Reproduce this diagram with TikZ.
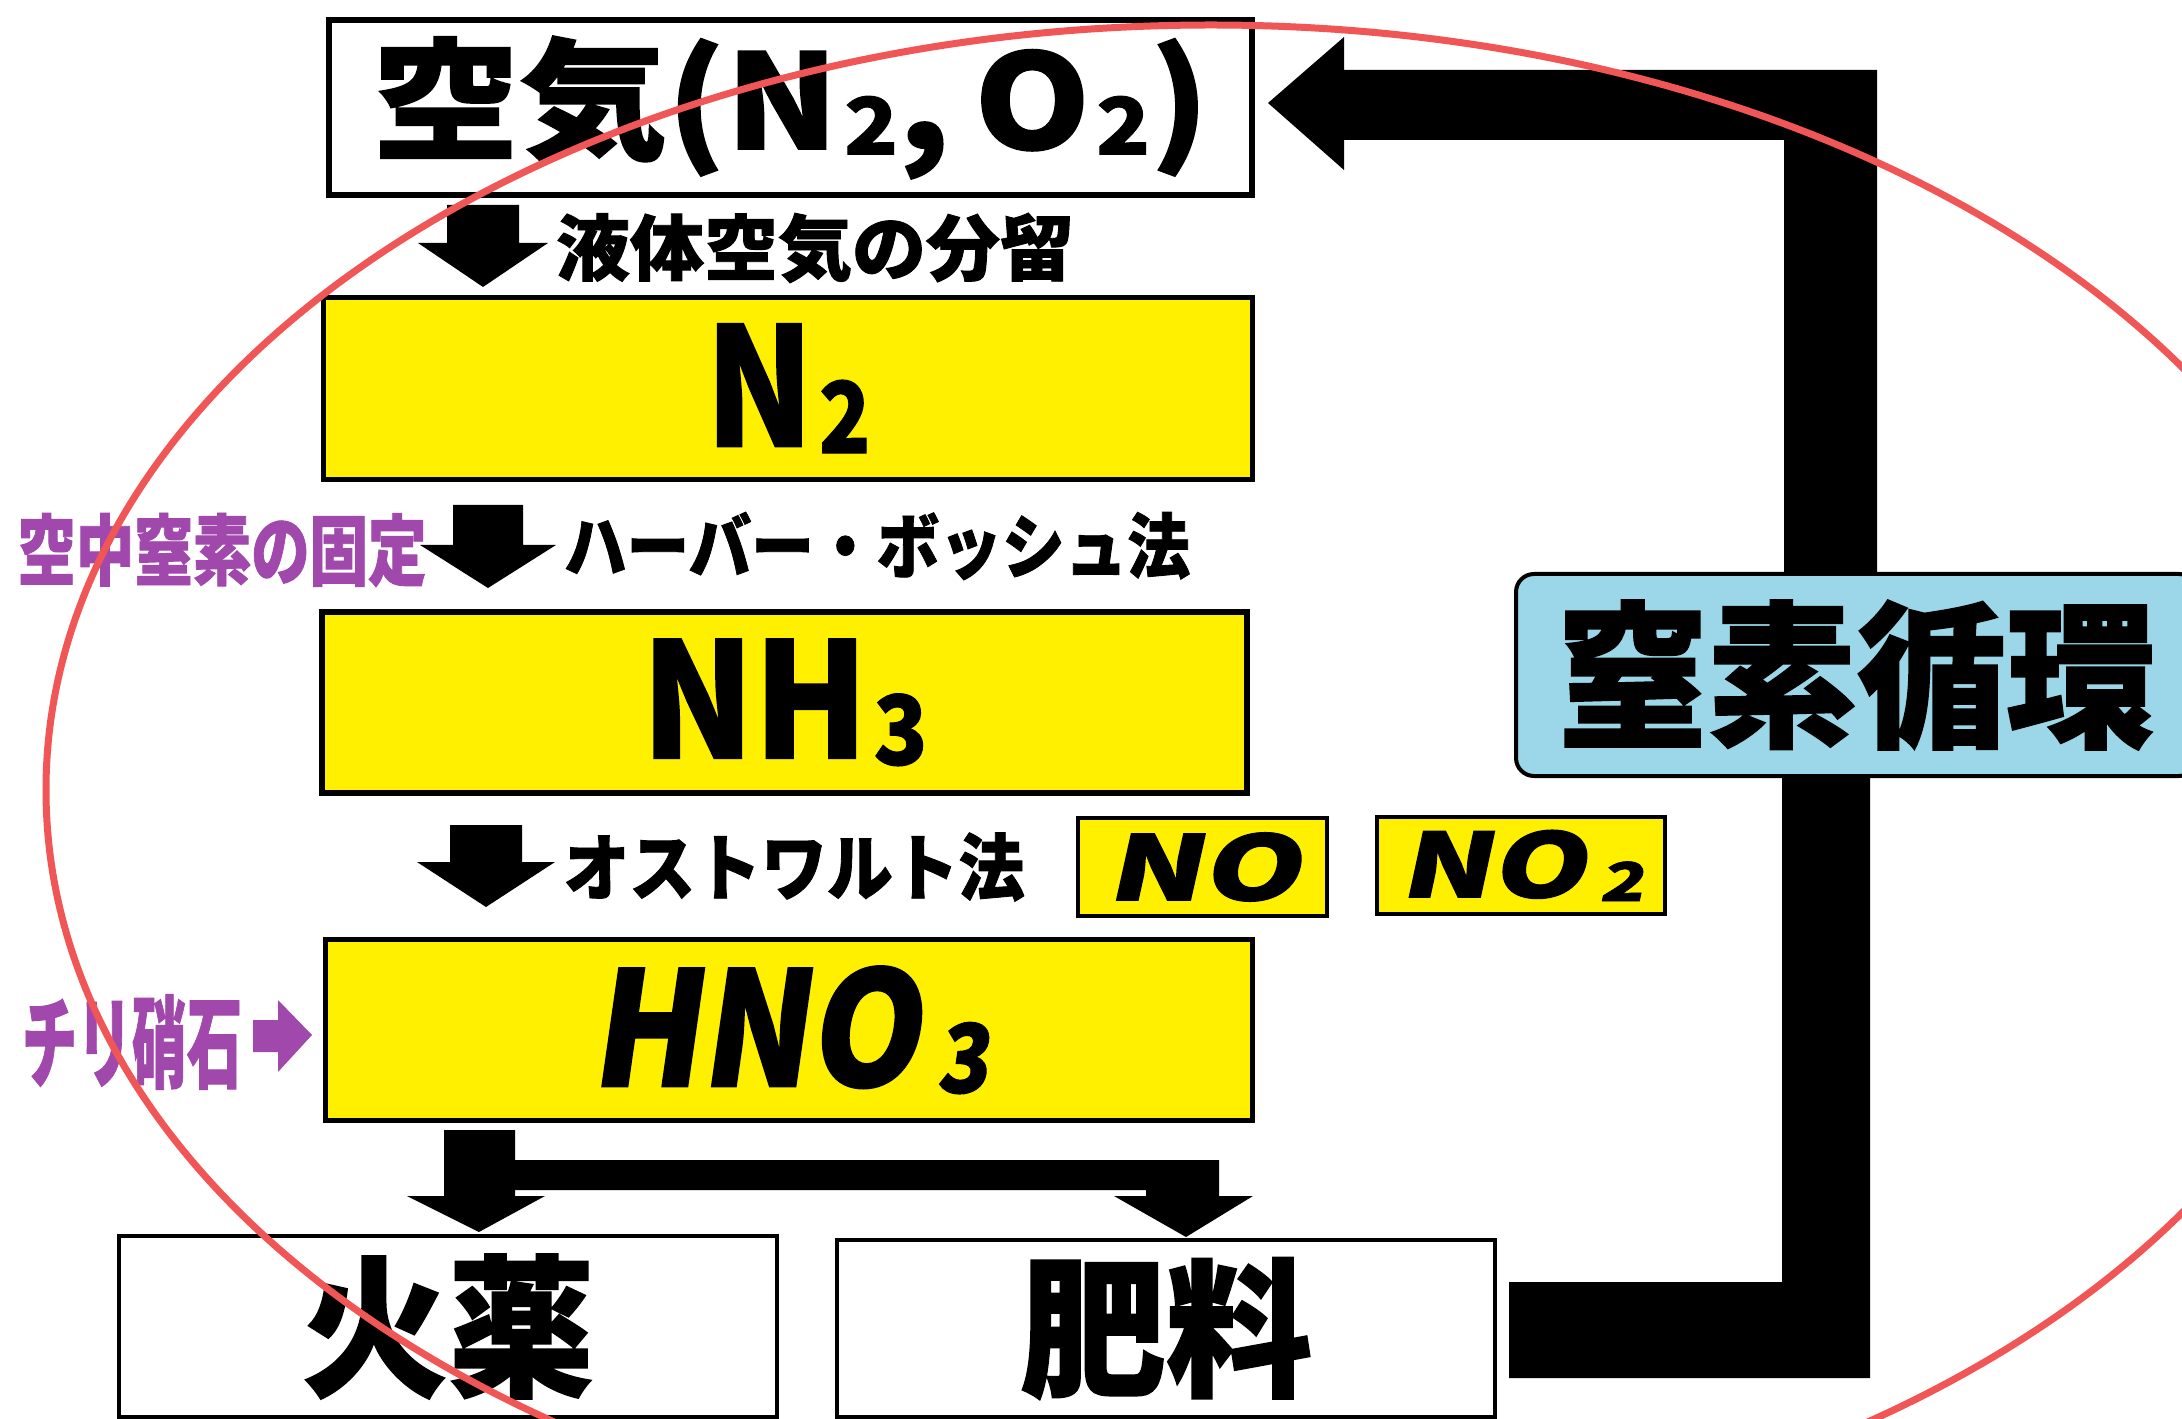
\documentclass[tikz,border=0pt]{standalone}
\usepackage{fontspec}
\usepackage{graphicx}
\newfontfamily\jp{Noto Sans CJK JP}[BoldFeatures={FakeBold=1.2}]
\newfontfamily\jpit{Noto Sans CJK JP}[FakeSlant=0.16,BoldFeatures={FakeBold=1.2}]
\newlength\pxu \setlength\pxu{0.01cm}
\newcommand\fitT[3]{\resizebox*{#1\pxu}{#2\pxu}{#3}}
\newcommand\sbs[1]{\kern0.04em\raisebox{-0.04em}{\scalebox{0.6}{#1}}}
\newcommand\sbsit[1]{\kern0.12em\raisebox{-0.04em}{\scalebox{0.6}{#1}}}
\newcommand\dnarrow[6]{\fill ({#1-#5},#2) -- ({#1+#5},#2) -- ({#1+#5},#3) -- ({#1+#6},#3) -- (#1,#4) -- ({#1-#6},#3) -- ({#1-#5},#3) -- cycle;}
\definecolor{boxyellow}{RGB}{255,240,0}
\definecolor{cycleblue}{RGB}{155,215,232}
\definecolor{fixpurple}{RGB}{160,72,172}
\definecolor{ringred}{RGB}{240,86,86}
\begin{document}
\begin{tikzpicture}[x=0.01cm,y=-0.01cm,
  box/.style={draw=black, inner sep=0pt, outer sep=0pt},
  ybox/.style={box, fill=boxyellow},
  wbox/.style={box, fill=white},
  lbl/.style={inner sep=0pt, outer sep=0pt},
  ring/.style={draw=ringred, line width=7\pxu}
]
\useasboundingbox (0,0) rectangle (2182,1419);
\clip (0,0) rectangle (2182,1419);
\fill[white] (0,0) rectangle (2182,1419);

% main boxes
\node[wbox, line width=6\pxu, minimum width=923\pxu, minimum height=175\pxu] (air) at (790.5,107.5)
  {\fitT{837}{143}{\jp\bfseries 空気(N\sbs{2},\,O\sbs{2})}};
\node[lbl] (liq) at (815,248) {\fitT{518}{70}{\jp\bfseries 液体空気の分留}};
\node[ybox, line width=5\pxu, minimum width=929\pxu, minimum height=182\pxu] (n2) at (788,388.5)
  {\fitT{165}{129}{\jp\bfseries N\sbs{2}}};
\node[lbl, text=fixpurple] (fix) at (222,550) {\fitT{409}{74}{\jp\bfseries 空中窒素の固定}};
\node[lbl] (hb) at (877,546) {\fitT{626}{68}{\jp\bfseries ハーバー・ボッシュ法}};
\node[ybox, line width=6\pxu, minimum width=925\pxu, minimum height=181\pxu] (nh3) at (784.5,702.5)
  {\fitT{286}{127}{\jp\bfseries NH\sbs{3}}};
\node[lbl] (ost) at (794,867) {\fitT{461}{69}{\jp\bfseries オストワルト法}};
\node[ybox, line width=4\pxu, minimum width=249\pxu, minimum height=98\pxu] (no) at (1202.5,867)
  {\fitT{193}{69}{\jpit\bfseries NO}};
\node[ybox, line width=4\pxu, minimum width=288\pxu, minimum height=97\pxu] (no2) at (1521,865.5)
  {\fitT{244}{71}{\jpit\bfseries NO\sbsit{2}}};
\node[ybox, line width=5\pxu, minimum width=927\pxu, minimum height=181\pxu] (hno3) at (789,1030)
  {\fitT{398}{128}{\jpit\bfseries HNO\sbsit{3}}};
\node[lbl, text=fixpurple] (chile) at (132,1042) {\fitT{220}{95}{\jp\bfseries チリ硝石}};
\node[wbox, line width=4\pxu, minimum width=658\pxu, minimum height=181\pxu] (gun) at (448,1326.5)
  {\fitT{293}{145}{\jp\bfseries 火薬}};
\node[wbox, line width=4\pxu, minimum width=658\pxu, minimum height=177\pxu] (fert) at (1166,1328.5)
  {\fitT{292}{142}{\jp\bfseries 肥料}};

% small down arrows
\dnarrow{483}{205}{243}{287}{36}{65}
\dnarrow{488}{505}{545}{588}{35}{68}
\dnarrow{486}{825}{862}{907}{36}{69}

% purple arrow from Chile saltpeter
\fill[fixpurple] (253,1020) -- (278,1020) -- (278,1000) -- (312,1035) -- (278,1072) -- (278,1052) -- (253,1052) -- cycle;

% branching arrow from HNO3
\fill (444,1130) -- (515,1130) -- (515,1160) -- (1219,1160) -- (1219,1196) -- (1253,1196) -- (1186,1237)
  -- (1114,1196) -- (1146,1196) -- (1146,1190) -- (515,1190) -- (515,1196) -- (545,1196) -- (479,1232)
  -- (407,1196) -- (444,1196) -- cycle;

% cycle arrow back to air
\fill (1268,103) -- (1344,37) -- (1344,70) -- (1877,70) -- (1877,680) -- (1870,680) -- (1870,1378)
  -- (1509,1378) -- (1509,1282) -- (1782,1282) -- (1782,680) -- (1784,680) -- (1784,140) -- (1344,140)
  -- (1344,170) -- cycle;
\node[box, fill=cycleblue, rounded corners=18\pxu, line width=4\pxu, minimum width=681\pxu, minimum height=202\pxu] (cyc) at (1856.5,675)
  {\fitT{598}{150}{\jp\bfseries 窒素循環}};

% red ring
\draw[ring] (1211,790) ellipse [x radius=1165, y radius=765];
\end{tikzpicture}
\end{document}
